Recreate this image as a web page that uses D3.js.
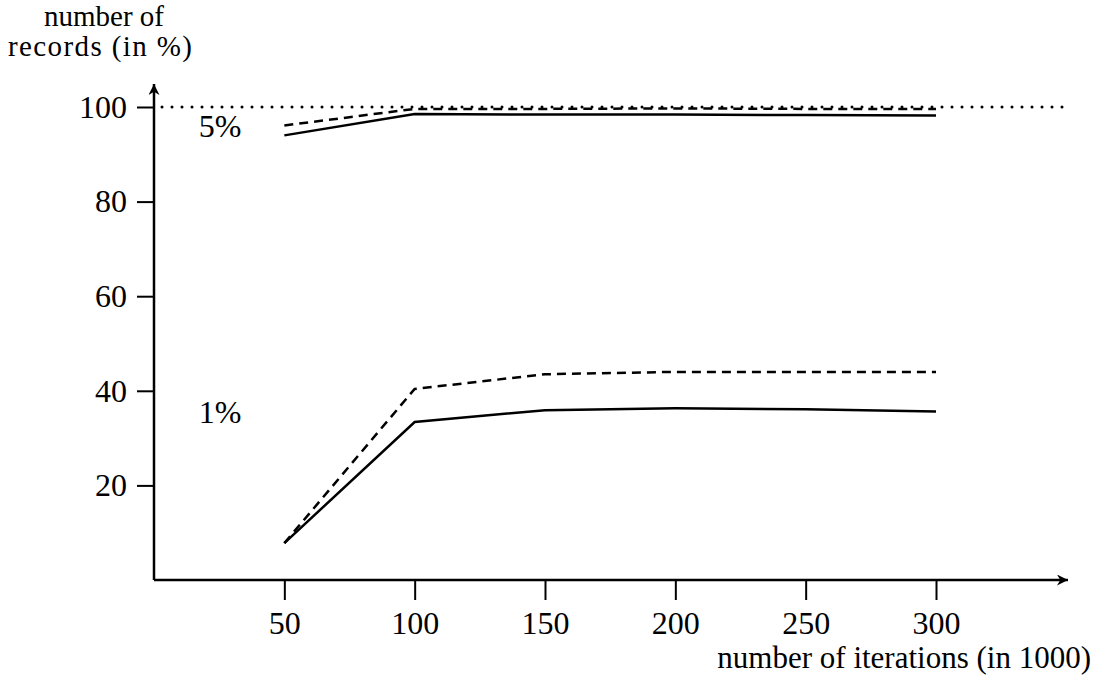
<!DOCTYPE html>
<html>
<head>
<meta charset="utf-8">
<script src="https://cdn.jsdelivr.net/npm/d3@7"></script>
<style>
  body { margin: 0; background: #fff; }
  svg text { font-family: "Liberation Serif", "Times New Roman", serif; fill: #000; }
</style>
</head>
<body>
<svg id="chart" width="1101" height="679"></svg>
<script>
// data
var iterations = [50, 100, 150, 200, 250, 300];
var solid5  = [94.0, 98.5, 98.4, 98.4, 98.3, 98.2];
var dashed5 = [96.1, 99.6, 99.6, 99.7, 99.6, 99.6];
var solid1  = [7.8, 33.4, 35.9, 36.3, 36.1, 35.6];
var dashed1 = [7.8, 40.4, 43.5, 44.0, 44.0, 44.0];
var xTicks = [50, 100, 150, 200, 250, 300];
var yTicks = [20, 40, 60, 80, 100];

var svg = d3.select("#chart");

var x = d3.scaleLinear().domain([0, 300]).range([154, 936]);
var y = d3.scaleLinear().domain([0, 100]).range([580, 107]);

// arrow head
svg.append("defs").append("marker")
  .attr("id", "arrow")
  .attr("viewBox", "0 0 10 10")
  .attr("refX", 10).attr("refY", 5)
  .attr("markerWidth", 18).attr("markerHeight", 11)
  .attr("markerUnits", "userSpaceOnUse")
  .attr("orient", "auto")
  .append("path").attr("d", "M0,0 L10,5 L0,10 L3,5 Z").attr("fill", "#000");

// axes lines
svg.append("line")
  .attr("x1", x(0)).attr("y1", y(0)).attr("x2", 1068).attr("y2", y(0))
  .attr("stroke", "#000").attr("stroke-width", 2.5)
  .attr("marker-end", "url(#arrow)");
svg.append("line")
  .attr("x1", x(0)).attr("y1", y(0)).attr("x2", x(0)).attr("y2", 84)
  .attr("stroke", "#000").attr("stroke-width", 2.5)
  .attr("marker-end", "url(#arrow)");

// x axis ticks
var xAxis = svg.append("g")
  .attr("transform", "translate(0," + y(0) + ")")
  .call(d3.axisBottom(x).tickValues(xTicks).tickSize(20).tickPadding(11));
xAxis.select(".domain").remove();
xAxis.selectAll("line").attr("stroke-width", 2);
xAxis.selectAll("text").attr("font-size", 32).attr("font-family", "Liberation Serif");

// y axis ticks
var yAxis = svg.append("g")
  .attr("transform", "translate(" + x(0) + ",0)")
  .call(d3.axisLeft(y).tickValues(yTicks).tickSize(17).tickPadding(10));
yAxis.select(".domain").remove();
yAxis.selectAll("line").attr("stroke-width", 2);
yAxis.selectAll("text").attr("font-size", 32).attr("font-family", "Liberation Serif");

// dotted 100% line
svg.append("line")
  .attr("x1", x(0) + 8).attr("y1", y(100)).attr("x2", 1072).attr("y2", y(100))
  .attr("stroke", "#000").attr("stroke-width", 3)
  .attr("stroke-linecap", "round")
  .attr("stroke-dasharray", "0,10");

var line = d3.line()
  .x(function(d, i) { return x(iterations[i]); })
  .y(function(d) { return y(d); });

var series = [
  { values: solid5, dash: null },
  { values: dashed5, dash: "9,6" },
  { values: solid1, dash: null },
  { values: dashed1, dash: "9,6" }
];

svg.selectAll("path.series")
  .data(series)
  .enter()
  .append("path")
  .attr("class", "series")
  .attr("d", function(d) { return line(d.values); })
  .attr("fill", "none")
  .attr("stroke", "#000")
  .attr("stroke-width", 2.5)
  .attr("stroke-dasharray", function(d) { return d.dash; });

// curve labels
svg.append("text").attr("x", 220).attr("y", 137).attr("text-anchor", "middle")
  .attr("font-size", 32).text("5%");
svg.append("text").attr("x", 220).attr("y", 423).attr("text-anchor", "middle")
  .attr("font-size", 32).text("1%");

// axis titles
svg.append("text").attr("x", 104).attr("y", 26).attr("text-anchor", "middle")
  .attr("font-size", 29).text("number of");
svg.append("text").attr("x", 100).attr("y", 56).attr("text-anchor", "middle")
  .attr("font-size", 29).attr("textLength", 184).text("records (in %)");
svg.append("text").attr("x", 1091).attr("y", 668).attr("text-anchor", "end")
  .attr("font-size", 31).text("number of iterations (in 1000)");
</script>
</body>
</html>
